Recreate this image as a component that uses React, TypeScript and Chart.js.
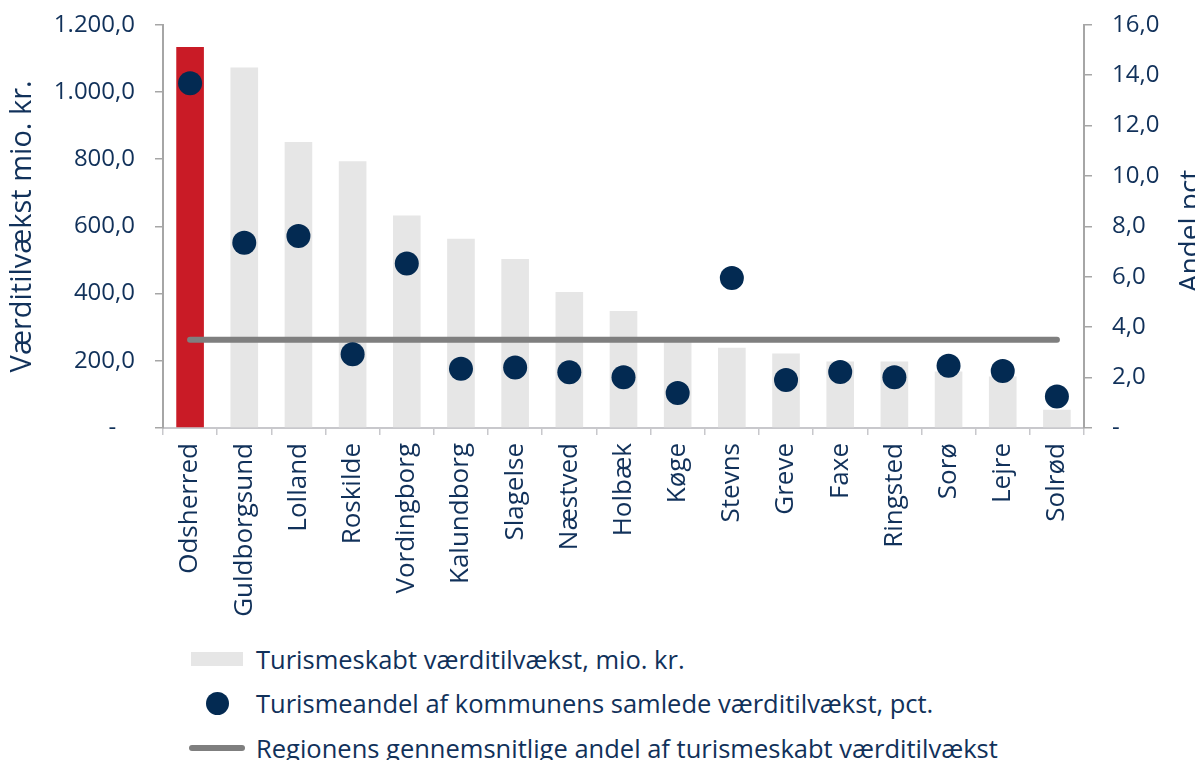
import React, { useEffect, useRef } from "react";
import { Chart, registerables } from "chart.js";

Chart.register(...registerables);

const categories = [
  "Odsherred", "Guldborgsund", "Lolland", "Roskilde", "Vordingborg", "Kalundborg",
  "Slagelse", "Næstved", "Holbæk", "Køge", "Stevns", "Greve", "Faxe", "Ringsted",
  "Sorø", "Lejre", "Solrød",
];
const vaerditilvaekst = [1134, 1073, 851, 794, 632, 563, 503, 405, 348, 262, 239, 222, 198, 198, 168, 153, 54];
const turismeandel = [13.68, 7.35, 7.62, 2.93, 6.53, 2.35, 2.4, 2.21, 2.01, 1.39, 5.95, 1.9, 2.22, 2.01, 2.47, 2.26, 1.25];
const regionGennemsnit = [3.5, 3.5, 3.5, 3.5, 3.5, 3.5, 3.5, 3.5, 3.5, 3.5, 3.5, 3.5, 3.5, 3.5, 3.5, 3.5, 3.5];
const leftTicks = { min: 0, max: 1200, step: 200 };
const rightTicks = { min: 0, max: 16, step: 2 };

const FONT = '"Open Sans", sans-serif';
const NAVY = "#11315a";
const DOT = "#032a52";
const RED = "#c91b26";
const GRAY_BAR = "#e6e6e6";
const LINE = "#7f7f7f";

function fmtDK(v: number, decimals: number): string {
  const fixed = Math.abs(v).toFixed(decimals);
  const [int, dec] = fixed.split(".");
  const withSep = int.replace(/\B(?=(\d{3})+(?!\d))/g, ".");
  return (v < 0 ? "-" : "") + withSep + (dec ? "," + dec : "");
}

const rightTitlePlugin = {
  id: "rightTitle",
  afterDraw(chart: any) {
    const { ctx, chartArea } = chart;
    ctx.save();
    ctx.translate(1191, (chartArea.top + chartArea.bottom) / 2 + 1);
    ctx.rotate(-Math.PI / 2);
    ctx.textAlign = "center";
    ctx.textBaseline = "alphabetic";
    ctx.fillStyle = NAVY;
    ctx.font = `28px ${FONT}`;
    ctx.fillText("Andel pct.", 0, 0);
    ctx.restore();
  },
};

export default function App() {
  const ref = useRef<HTMLCanvasElement | null>(null);

  useEffect(() => {
    if (!ref.current) return;
    const chart = new Chart(ref.current, {
      type: "bar",
      data: {
        labels: categories,
        datasets: [
          {
            type: "line",
            label: "Turismeandel af kommunens samlede værditilvækst, pct.",
            data: turismeandel,
            yAxisID: "y1",
            showLine: false,
            pointRadius: 12,
            pointHoverRadius: 12,
            pointBackgroundColor: DOT,
            pointBorderWidth: 0,
            backgroundColor: DOT,
            borderColor: DOT,
            order: 1,
          } as any,
          {
            type: "line",
            label: "Regionens gennemsnitlige andel af turismeskabt værditilvækst",
            data: regionGennemsnit,
            yAxisID: "y1",
            borderColor: LINE,
            borderWidth: 6,
            borderCapStyle: "round",
            pointRadius: 0,
            fill: false,
            order: 2,
          } as any,
          {
            type: "bar",
            label: "Turismeskabt værditilvækst, mio. kr.",
            data: vaerditilvaekst,
            yAxisID: "y",
            backgroundColor: categories.map((_, i) => (i === 0 ? RED : GRAY_BAR)),
            borderWidth: 0,
            categoryPercentage: 1,
            barPercentage: 0.51,
            order: 3,
          } as any,
        ],
      },
      options: {
        animation: false,
        responsive: true,
        maintainAspectRatio: false,
        layout: { padding: { top: 0, left: 0, right: 0, bottom: 0 } },
        plugins: {
          legend: { display: false },
          tooltip: { enabled: false },
        },
        scales: {
          x: {
            offset: true,
            grid: {
              display: true,
              drawOnChartArea: false,
              drawTicks: true,
              tickLength: 7,
              color: "#c8c8cc",
              lineWidth: 1.5,
              offset: true,
            },
            border: { display: true, color: "#c8c8cc", width: 2 },
            ticks: {
              autoSkip: false,
              maxRotation: 90,
              minRotation: 90,
              padding: 8,
              color: NAVY,
              font: { family: FONT, size: 26 },
            },
            afterFit: (s: any) => {
              s.height = 200;
            },
          },
          y: {
            position: "left",
            min: leftTicks.min,
            max: leftTicks.max,
            grid: {
              drawOnChartArea: false,
              drawTicks: true,
              tickLength: 8,
              color: "#a6a6a6",
              lineWidth: 1.5,
            },
            border: { display: true, color: "#a6a6a6", width: 2 },
            ticks: {
              stepSize: leftTicks.step,
              padding: 20,
              color: NAVY,
              font: { family: FONT, size: 24 },
              callback: (v: any) => (Number(v) === 0 ? "-   " : fmtDK(Number(v), 1)),
            },
            title: {
              display: true,
              text: "Værditilvækst mio. kr.",
              color: NAVY,
              font: { family: FONT, size: 29, lineHeight: 1 },
              padding: { top: 0, bottom: 0 },
            },
            afterFit: (s: any) => {
              s.width = 155;
              s.paddingTop = 16.7;
              s.paddingBottom = 16.7;
            },
          },
          y1: {
            position: "right",
            min: rightTicks.min,
            max: rightTicks.max,
            grid: {
              drawOnChartArea: false,
              drawTicks: true,
              tickLength: 8,
              color: "#a6a6a6",
              lineWidth: 1.5,
            },
            border: { display: true, color: "#a6a6a6", width: 2 },
            ticks: {
              stepSize: rightTicks.step,
              padding: 20,
              color: NAVY,
              font: { family: FONT, size: 24 },
              callback: (v: any) => (Number(v) === 0 ? "-" : fmtDK(Number(v), 1)),
            },
            afterFit: (s: any) => {
              s.width = 111;
              s.paddingTop = 16.7;
              s.paddingBottom = 16.7;
            },
          },
        },
      } as any,
      plugins: [rightTitlePlugin],
    });
    return () => chart.destroy();
  }, []);

  const rowStyle: React.CSSProperties = {
    display: "flex",
    alignItems: "center",
    height: 44.5,
    paddingLeft: 181,
  };
  const symStyle: React.CSSProperties = {
    width: 56,
    height: 24,
    display: "flex",
    alignItems: "center",
    justifyContent: "center",
    marginRight: 11,
  };
  const textStyle: React.CSSProperties = {
    fontFamily: FONT,
    fontSize: 25.5,
    color: NAVY,
    whiteSpace: "nowrap",
    lineHeight: 1,
  };

  return (
    <div style={{ width: 1187 }}>
      <style>{`html,body{overflow:hidden}`}</style>
      <div style={{ position: "relative", width: 1187, height: 620 }}>
        <canvas ref={ref} />
      </div>
      <div style={{ marginTop: 9 }}>
        <div style={rowStyle}>
          <div style={symStyle}>
            <div style={{ width: 52, height: 14, background: GRAY_BAR }} />
          </div>
          <span style={textStyle}>Turismeskabt værditilvækst, mio. kr.</span>
        </div>
        <div style={rowStyle}>
          <div style={symStyle}>
            <div style={{ width: 23, height: 23, borderRadius: "50%", background: DOT }} />
          </div>
          <span style={textStyle}>Turismeandel af kommunens samlede værditilvækst, pct.</span>
        </div>
        <div style={rowStyle}>
          <div style={symStyle}>
            <div style={{ width: 56, height: 6, borderRadius: 3, background: LINE }} />
          </div>
          <span style={textStyle}>Regionens gennemsnitlige andel af turismeskabt værditilvækst</span>
        </div>
      </div>
    </div>
  );
}
